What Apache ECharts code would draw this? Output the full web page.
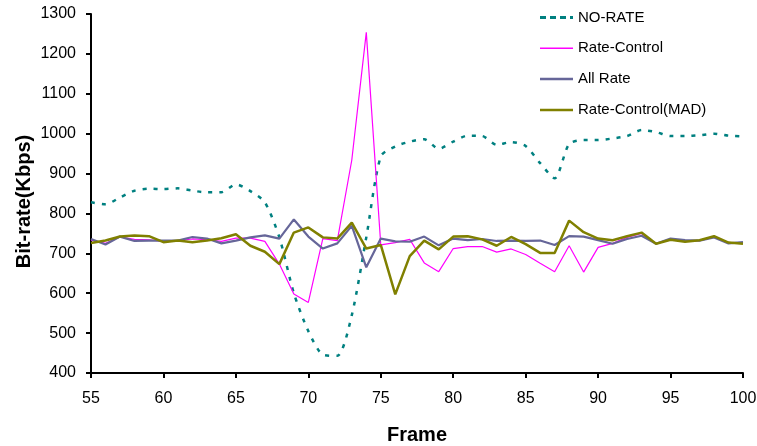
<!DOCTYPE html>
<html>
<head>
<meta charset="utf-8">
<script src="https://cdn.jsdelivr.net/npm/echarts@6/dist/echarts.min.js"></script>
<style>
  html, body { margin: 0; padding: 0; background: #fff; }
  #chart { width: 757px; height: 446px; }
</style>
</head>
<body>
<div id="chart"></div>
<script>
// Frame numbers 55..100
const frames = [55,56,57,58,59,60,61,62,63,64,65,66,67,68,69,70,71,72,73,74,75,76,77,78,79,80,81,82,83,84,85,86,87,88,89,90,91,92,93,94,95,96,97,98,99,100];

// Bit-rate (Kbps) per frame
const noRate = [828,823,840,857,862,861,863,857,853,853,873,856,828,740,600,505,446,443,545,740,943,968,980,986,962,980,995,994,972,979,969,926,888,974,984,984,988,994,1009,1004,994,994,996,1000,995,993];
const rateControl = [733,725,741,735,734,730,732,736,734,730,738,738,730,673,598,577,737,732,934,1254,721,727,735,676,654,712,717,717,703,711,697,675,654,719,653,715,725,740,750,724,736,731,732,741,726,726];
const allRate = [736,722,742,731,732,732,732,741,737,725,732,740,745,737,785,742,712,725,769,665,737,730,729,742,720,737,733,736,731,732,731,732,721,743,742,733,724,736,744,724,737,733,732,740,725,728];
const rateControlMad = [726,732,742,745,743,728,732,728,732,738,748,719,704,673,752,765,740,737,777,712,721,597,693,732,710,742,743,735,719,741,723,701,701,782,753,737,733,743,752,724,734,729,733,743,727,724];

const seriesNames = ['NO-RATE', 'Rate-Control', 'All Rate', 'Rate-Control(MAD)'];
const xTicks = { min: 55, max: 100, step: 5 };
const yTicks = { min: 400, max: 1300, step: 100 };

const pairs = vals => frames.map((f, i) => [f, vals[i]]);
const font = 'Liberation Sans, Arial, sans-serif';

// legend swatches: short horizontal strokes
const bar = h => 'path://M0,0 L33,0 L33,' + h + ' L0,' + h + ' Z';
const dashes = 'path://M0,0 L6,0 L6,3 L0,3 Z M10,0 L16,0 L16,3 L10,3 Z M20,0 L26,0 L26,3 L20,3 Z M30,0 L33,0 L33,3 L30,3 Z';

const chart = echarts.init(document.getElementById('chart'), null, { renderer: 'canvas' });
chart.setOption({
  animation: false,
  backgroundColor: '#ffffff',
  grid: { left: 91, right: 14, top: 14, bottom: 73, containLabel: false, outerBoundsMode: 'none' },
  legend: {
    orient: 'vertical',
    left: 540,
    top: 10,
    padding: 0,
    itemWidth: 33,
    itemHeight: 14,
    itemGap: 15.8,
    textStyle: { fontFamily: font, fontSize: 15, color: '#000' },
    data: [
      { name: seriesNames[0], icon: dashes },
      { name: seriesNames[1], icon: bar(1.5) },
      { name: seriesNames[2], icon: bar(2.5) },
      { name: seriesNames[3], icon: bar(2.5) }
    ]
  },
  xAxis: {
    type: 'value',
    min: xTicks.min,
    max: xTicks.max,
    interval: xTicks.step,
    name: 'Frame',
    nameLocation: 'middle',
    nameGap: 52,
    nameMoveOverlap: false,
    nameTextStyle: { fontFamily: font, fontSize: 20, fontWeight: 'bold', color: '#000' },
    axisLine: { lineStyle: { color: '#000', width: 2 } },
    axisTick: { show: true, inside: false, length: 5, lineStyle: { color: '#000', width: 2 } },
    axisLabel: { fontFamily: font, fontSize: 16, color: '#000', margin: 18 },
    splitLine: { show: false }
  },
  yAxis: {
    type: 'value',
    min: yTicks.min,
    max: yTicks.max,
    interval: yTicks.step,
    name: 'Bit-rate(Kbps)',
    nameLocation: 'middle',
    nameGap: 57,
    nameMoveOverlap: false,
    nameTextStyle: { fontFamily: font, fontSize: 20, fontWeight: 'bold', color: '#000', padding: [0, 16, 0, 0] },
    axisLine: { show: true, lineStyle: { color: '#000', width: 2 } },
    axisTick: { show: true, inside: false, length: 5, lineStyle: { color: '#000', width: 2 } },
    axisLabel: { fontFamily: font, fontSize: 16, color: '#000', margin: 15, formatter: v => String(v) },
    splitLine: { show: false }
  },
  series: [
    {
      name: seriesNames[0], type: 'line', data: pairs(noRate), symbol: 'none', smooth: 0.25,
      lineStyle: { color: '#008080', width: 2.5, type: [4, 7] }, itemStyle: { color: '#008080' }, z: 1
    },
    {
      name: seriesNames[1], type: 'line', data: pairs(rateControl), symbol: 'none',
      lineStyle: { color: '#ff00ff', width: 1.2 }, itemStyle: { color: '#ff00ff' }, z: 2
    },
    {
      name: seriesNames[2], type: 'line', data: pairs(allRate), symbol: 'none',
      lineStyle: { color: '#666699', width: 2.2 }, itemStyle: { color: '#666699' }, z: 3
    },
    {
      name: seriesNames[3], type: 'line', data: pairs(rateControlMad), symbol: 'none',
      lineStyle: { color: '#808000', width: 2.5 }, itemStyle: { color: '#808000' }, z: 4
    }
  ]
});
</script>
</body>
</html>
